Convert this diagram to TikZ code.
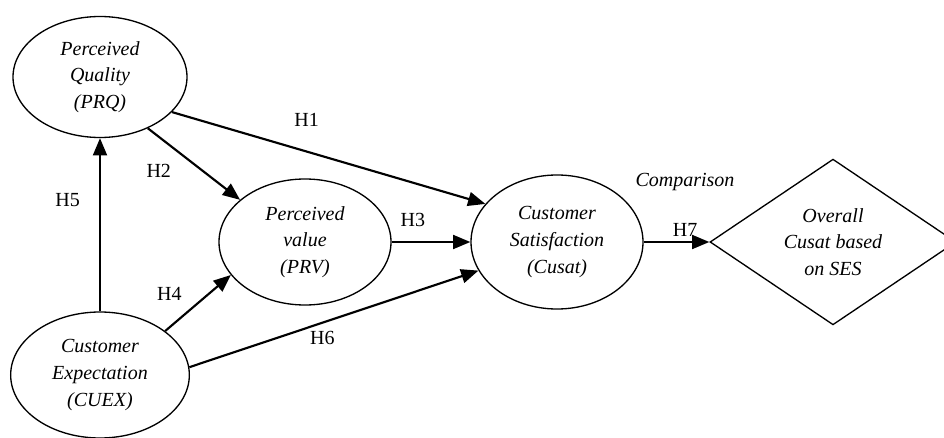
\documentclass[tikz,border=0pt]{standalone}
\usepackage{fontspec}
\setmainfont{Liberation Serif}
\usetikzlibrary{shapes.geometric,arrows.meta}

\begin{document}
\begin{tikzpicture}[x = 0.75pt, y = -0.75pt, font = \fontsize{15}{20}\selectfont,
    construct/.style = {draw, ellipse, line width = 1pt, inner sep = 0pt, align = center, font = \fontsize{15}{20}\selectfont\itshape},
    link/.style = {-{Triangle[length = 13pt, width = 10.5pt]}, line width = 1.6pt}]
      \useasboundingbox (0, 0) rectangle (944, 438);

      \node (prq) [construct, minimum width = 130.5pt, minimum height = 90.75pt] at (100, 77) {Perceived\\Quality\\(PRQ)};
      \node (prv) [construct, minimum width = 129pt, minimum height = 94.5pt] at (305, 242) {Perceived\\value\\(PRV)};
      \node (cusat) [construct, minimum width = 129pt, minimum height = 100.5pt] at (557, 242) {Customer\\Satisfaction\\(Cusat)};
      \node (cuex) [construct, minimum width = 134pt, minimum height = 94.5pt] at (100, 375) {Customer\\Expectation\\(CUEX)};
      \node (overall) [draw, diamond, line width = 1pt, inner sep = 0pt, align = center, font = \fontsize{15}{20}\selectfont\itshape, minimum width = 184.5pt, minimum height = 117pt] at (833, 242) {Overall\\Cusat based\\on SES};

      \draw [link] (prq.-26) -- (cusat.152) node (h1) [pos = 0.43, above = 15pt] {H1};
      \draw [link] (prq.-47) -- (prv.147) node (h2) [pos = 0.6, left = 20pt] {H2};
      \draw [link] (prv) -- (cusat) node (h3) [pos = 0.27, above = 7pt] {H3};
      \draw [link] (cuex.34) -- (prv.204) node (h4) [pos = 0.66, left = 16pt] {H4};
      \draw [link] (cuex) -- (prq) node (h5) [pos = 0.64, left = 11pt] {H5};
      \draw [link] (cuex.5) -- (cusat.200) node (h6) [pos = 0.46, below = 2.5pt] {H6};
      \draw [link] (cusat) -- (overall) node (h7) [pos = 0.63, above] {H7};

      \node (comparison) [font = \fontsize{15}{20}\selectfont\itshape] at (685, 182) {Comparison};
    \end{tikzpicture}
\end{document}
